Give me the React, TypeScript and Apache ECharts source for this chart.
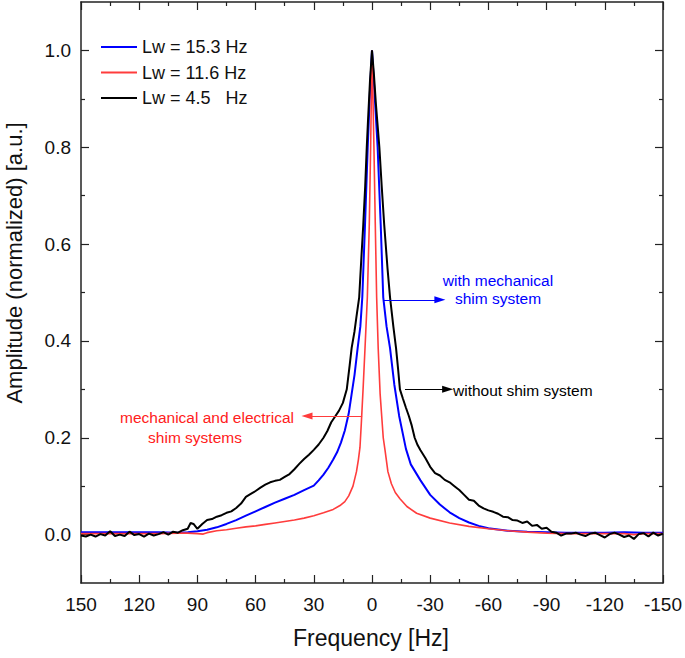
import React, { useEffect, useRef } from "react";
import * as echarts from "echarts";

// ---------- data ----------
const blueFreq = [150,140,130,120,110,100,95,90,85,80,75,70,65,60,55,50,45,40,35,30,27.5,25,22.5,20,18,16,14,12,10.5,9,7.4,6,5,3.6,2.2,1,0,-1.2,-2.9,-4.5,-5.8,-7.5,-9.3,-11.5,-14,-17.5,-20,-25,-30,-35,-40,-45,-50,-55,-60,-70,-80,-90,-100,-110,-120,-130,-140,-150];
const blueAmp = [0.005,0.005,0.005,0.005,0.005,0.004,0.005,0.007,0.010,0.015,0.022,0.030,0.039,0.048,0.057,0.066,0.074,0.082,0.092,0.101,0.112,0.124,0.138,0.155,0.170,0.190,0.215,0.250,0.290,0.330,0.385,0.430,0.490,0.640,0.800,0.920,1.000,0.920,0.800,0.640,0.490,0.430,0.385,0.310,0.245,0.177,0.145,0.112,0.082,0.062,0.046,0.034,0.025,0.018,0.013,0.008,0.006,0.005,0.004,0.004,0.004,0.005,0.004,0.004];

const redFreq = [150,140,130,120,110,100,95,90,87,85,80,75,70,65,60,55,50,45,40,35,30,25,20,16.5,14,12,9.8,8,7,6.2,5.5,4.6,3.6,2.4,1.4,0.7,0,-1,-1.7,-2.4,-3.2,-4.2,-5,-5.8,-6.7,-8.2,-10,-12,-14.4,-18,-23,-30,-40,-50,-60,-70,-80,-90,-100,-110,-120,-130,-135,-140,-150];
const redAmp = [0.002,0.002,0.002,0.002,0.002,0.003,0.003,0.002,0.001,0.004,0.008,0.010,0.013,0.016,0.018,0.021,0.024,0.027,0.030,0.034,0.039,0.045,0.052,0.060,0.068,0.080,0.100,0.130,0.155,0.180,0.230,0.300,0.385,0.490,0.640,0.800,1.000,0.800,0.640,0.490,0.385,0.290,0.245,0.200,0.175,0.130,0.105,0.087,0.074,0.058,0.044,0.034,0.024,0.017,0.012,0.008,0.005,0.003,0.002,0.002,0.002,0.002,0.000,0.002,0.002];

const blackFreq = [150,147.5,145,142.5,140,137.5,135,132.5,130,127.5,125,122.5,120,117.5,115,112.5,110,107.5,105,102.5,100,97.5,95,93.5,92,90,87.5,85,82.5,80,77.5,75,72.5,70,67.5,65,62.5,60,57.5,55,52.5,50,47.5,45,42.5,40,37.5,35,32.5,30,27.5,25,23,21,19,17,15,13,11.5,10.5,9,8,6.6,5.5,4.5,3.5,2.7,2,1,0,-1,-2,-3,-3.8,-5,-6.3,-8,-9.3,-11,-12.4,-13.5,-14.4,-16,-17.5,-19,-20.5,-22,-23.5,-25,-27.5,-30,-32.5,-35,-37.5,-40,-42.5,-45,-47.5,-50,-52.5,-55,-57.5,-60,-62.5,-65,-67.5,-70,-72.5,-75,-77.5,-80,-82.5,-85,-87.5,-90,-92.5,-95,-97.5,-100,-102.5,-105,-107.5,-110,-112.5,-115,-117.5,-120,-122.5,-125,-127.5,-130,-132.5,-135,-137.5,-140,-142.5,-145,-147.5,-150];
const blackAmp = [-0.002,-0.004,0.000,-0.004,0.001,-0.002,0.007,-0.003,0.000,-0.003,0.006,-0.001,0.001,-0.004,0.002,-0.002,0.001,0.005,0.000,0.006,0.004,0.009,0.012,0.024,0.022,0.012,0.022,0.030,0.032,0.037,0.040,0.045,0.048,0.055,0.064,0.078,0.084,0.090,0.097,0.103,0.108,0.111,0.113,0.119,0.125,0.135,0.146,0.156,0.165,0.175,0.186,0.200,0.214,0.232,0.244,0.256,0.272,0.300,0.350,0.385,0.420,0.450,0.490,0.570,0.640,0.720,0.800,0.860,0.940,1.000,0.950,0.890,0.840,0.800,0.720,0.640,0.550,0.490,0.430,0.385,0.340,0.300,0.280,0.262,0.245,0.225,0.200,0.185,0.174,0.158,0.140,0.127,0.122,0.113,0.108,0.100,0.092,0.082,0.072,0.070,0.060,0.054,0.050,0.047,0.043,0.037,0.036,0.030,0.029,0.024,0.027,0.018,0.020,0.012,0.014,0.006,0.004,-0.002,0.002,0.002,0.004,0.000,-0.003,0.002,0.004,-0.001,-0.006,0.001,0.004,0.000,-0.005,-0.002,-0.009,0.001,0.003,-0.004,0.004,-0.002,0.002];

const seriesNames = ["Lw = 15.3 Hz", "Lw = 11.6 Hz", "Lw = 4.5   Hz"];
const yMajorTicks = [0, 0.2, 0.4, 0.6, 0.8, 1.0];
const yMinorTicks = [0.1, 0.3, 0.5, 0.7, 0.9];

const FONT = "'Liberation Sans', Arial, Helvetica, sans-serif";
const BLUE = "#0000ff";
const RED = "#ff3c3c";
const BLACK = "#000000";
const ANN_FONT = `15.5px ${FONT}`;

const zip = (xs: number[], ys: number[]) => xs.map((x, i) => [x, ys[i]]);

export default function App() {
  const ref = useRef<HTMLDivElement>(null);
  useEffect(() => {
    if (!ref.current) return;
    const chart = echarts.init(ref.current, undefined, { renderer: "svg" });
    const yBase = {
      type: "value" as const,
      min: -0.1,
      max: 1.1,
      splitLine: { show: false },
    };
    const xBase = {
      type: "value" as const,
      min: -150,
      max: 150,
      interval: 30,
      inverse: true,
      splitLine: { show: false },
      minorSplitLine: { show: false },
      axisLine: { show: true, onZero: false, lineStyle: { color: "#222", width: 1.5 } },
      axisTick: { show: true, inside: true, length: 8, lineStyle: { color: "#222", width: 1.2 } },
      minorTick: { show: true, splitNumber: 2, length: 4, lineStyle: { color: "#222", width: 1.2 } },
    };
    const markArrow = (color: string, from: number[], to: number[]) => ({
      silent: true,
      symbol: ["none", "triangle"],
      symbolSize: [7, 11],
      label: { show: false },
      lineStyle: { color, width: 1, type: "solid" as const },
      emphasis: { disabled: true },
      data: [[{ coord: from }, { coord: to }]],
    });
    const lineIcon = "path://M0,0 L36,0 L36,2 L0,2 Z";
    chart.setOption({
      animation: false,
      backgroundColor: "#ffffff",
      textStyle: { fontFamily: FONT },
      grid: { left: 81, right: 21, top: 2, bottom: 75 },
      legend: {
        orient: "vertical",
        left: 96,
        top: 33,
        icon: lineIcon,
        itemWidth: 36,
        itemHeight: 2.2,
        itemGap: 7.5,
        data: seriesNames,
        textStyle: { fontSize: 18, color: "#111", fontFamily: FONT, padding: [0, 0, 0, 0] },
      },
      xAxis: [
        {
          ...xBase,
          position: "bottom",
          axisLabel: { fontSize: 19, color: "#111", margin: 12, fontFamily: FONT },
        },
        { ...xBase, position: "top", axisLabel: { show: false } },
      ],
      yAxis: [
        {
          ...yBase,
          position: "left",
          axisLine: { show: true, onZero: false, lineStyle: { color: "#222", width: 1.5 } },
          axisTick: { show: true, inside: true, length: 8, customValues: yMajorTicks, lineStyle: { color: "#222", width: 1.2 } },
          axisLabel: {
            show: true,
            customValues: yMajorTicks,
            formatter: (v: number) => v.toFixed(1),
            fontSize: 19,
            color: "#111",
            margin: 10,
            fontFamily: FONT,
          },
        },
        {
          ...yBase,
          position: "left",
          axisLine: { show: false, onZero: false },
          axisTick: { show: true, inside: true, length: 4, customValues: yMinorTicks, lineStyle: { color: "#222", width: 1.2 } },
          axisLabel: { show: false },
        },
        {
          ...yBase,
          position: "right",
          axisLine: { show: true, onZero: false, lineStyle: { color: "#222", width: 1.5 } },
          axisTick: { show: true, inside: true, length: 8, customValues: yMajorTicks, lineStyle: { color: "#222", width: 1.2 } },
          axisLabel: { show: false },
        },
        {
          ...yBase,
          position: "right",
          axisLine: { show: false, onZero: false },
          axisTick: { show: true, inside: true, length: 4, customValues: yMinorTicks, lineStyle: { color: "#222", width: 1.2 } },
          axisLabel: { show: false },
        },
      ],
      series: [
        {
          name: seriesNames[0],
          type: "line",
          data: zip(blueFreq, blueAmp),
          showSymbol: false,
          symbol: "none",
          lineStyle: { color: BLUE, width: 2 },
          itemStyle: { color: BLUE },
          z: 2,
          markLine: markArrow(BLUE, [-5.8, 0.485], [-35, 0.485]),
        },
        {
          name: seriesNames[1],
          type: "line",
          data: zip(redFreq, redAmp),
          showSymbol: false,
          symbol: "none",
          lineStyle: { color: RED, width: 1.6 },
          itemStyle: { color: RED },
          z: 3,
          markLine: markArrow(RED, [5.1, 0.245], [33.5, 0.245]),
        },
        {
          name: seriesNames[2],
          type: "line",
          data: zip(blackFreq, blackAmp),
          showSymbol: false,
          symbol: "none",
          lineStyle: { color: BLACK, width: 2 },
          itemStyle: { color: BLACK },
          z: 4,
          markLine: markArrow(BLACK, [-17, 0.3], [-39, 0.3]),
        },
      ],
      graphic: [
        { type: "text", x: 498, y: 280, style: { text: "with mechanical", fill: BLUE, font: ANN_FONT, textAlign: "center", textVerticalAlign: "middle" } },
        { type: "text", x: 498, y: 298, style: { text: "shim system", fill: BLUE, font: ANN_FONT, textAlign: "center", textVerticalAlign: "middle" } },
        { type: "text", x: 453, y: 390, style: { text: "without shim system", fill: BLACK, font: ANN_FONT, textAlign: "left", textVerticalAlign: "middle" } },
        { type: "text", x: 207, y: 417, style: { text: "mechanical and electrical", fill: "#ff2020", font: ANN_FONT, textAlign: "center", textVerticalAlign: "middle" } },
        { type: "text", x: 195, y: 437, style: { text: "shim systems", fill: "#ff2020", font: ANN_FONT, textAlign: "center", textVerticalAlign: "middle" } },
        { type: "text", x: 371, y: 638, style: { text: "Frequency [Hz]", fill: "#111", font: `23px ${FONT}`, textAlign: "center", textVerticalAlign: "middle" } },
        { type: "text", x: 14, y: 263, rotation: Math.PI / 2, style: { text: "Amplitude (normalized) [a.u.]", fill: "#111", font: `22px ${FONT}`, textAlign: "center", textVerticalAlign: "middle" } },
      ],
    });
    return () => chart.dispose();
  }, []);
  return (
    <div
      ref={ref}
      style={{ position: "fixed", left: 0, top: 0, width: 685, height: 658, background: "#fff" }}
    />
  );
}
